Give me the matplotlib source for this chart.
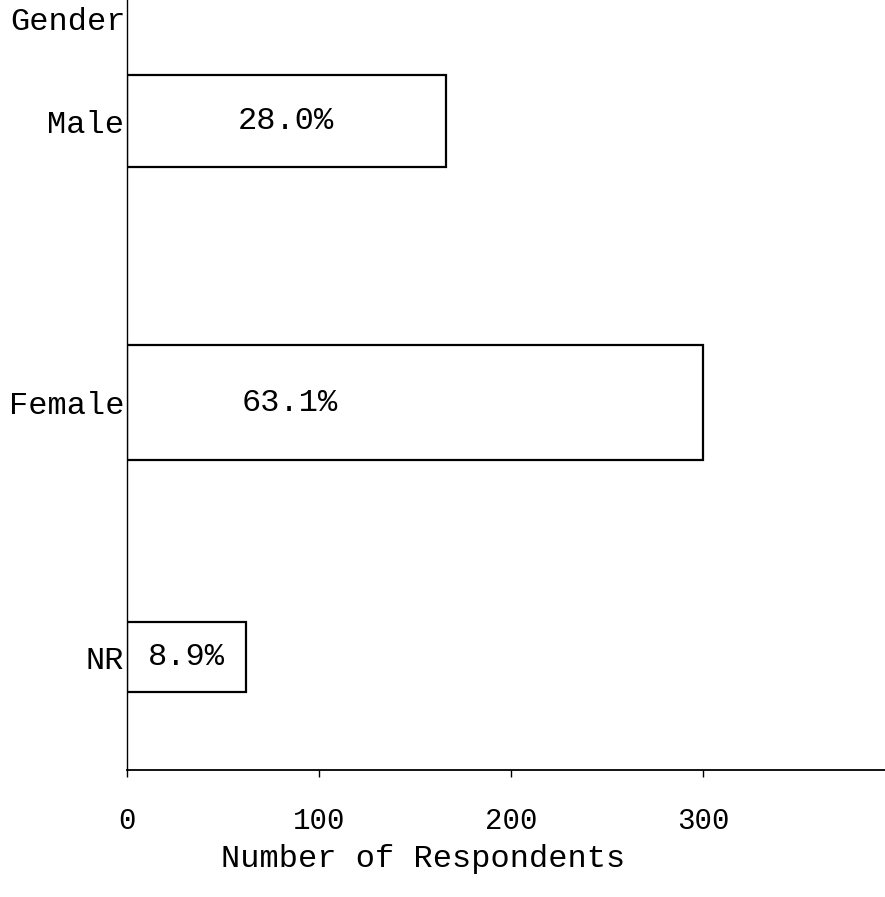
import matplotlib
matplotlib.use("Agg")
import matplotlib.pyplot as plt

# data
genders = ["Male", "Female", "NR"]
respondents = [166, 300, 62]
pct_labels = ["28.0%", "63.1%", "8.9%"]
xticks = [0, 100, 200, 300]

plt.rcParams['font.family'] = ['Liberation Mono', 'DejaVu Sans Mono']

fig = plt.figure(figsize=(8.85, 8.97), dpi=100)
ax = fig.add_axes([0.1435, 0.1416, 0.857, 0.858])

ypos = [2, 0.95, 0]
heights = [0.34, 0.43, 0.26]
ax.barh(ypos, respondents, height=heights, color="white", edgecolor="black", linewidth=1.6)

for y, v, lab in zip(ypos, respondents, pct_labels):
    ax.text(min(v / 2, 85), y, lab, ha="center", va="center", fontsize=23)

ax.set_xlim(0, 395)
ax.set_ylim(-0.42, 2.45)
ax.set_yticks(ypos)
ax.set_yticklabels(genders, fontsize=23)
ax.tick_params(axis="y", length=0, pad=2)
ax.set_xticks(xticks)
ax.set_xticklabels([str(t) for t in xticks], fontsize=21)
ax.tick_params(axis="x", direction="out", length=5, width=1, pad=22)

for s in ["top", "right"]:
    ax.spines[s].set_visible(False)
ax.spines["left"].set_linewidth(1.0)
ax.spines["bottom"].set_linewidth(1.3)

ax.set_xlabel("Number of Respondents", fontsize=23, labelpad=6, x=0.39)
fig.text(0.142, 1 - 22 / 897, "Gender", ha="right", va="center", fontsize=23)

fig.savefig("out.png", dpi=100)
